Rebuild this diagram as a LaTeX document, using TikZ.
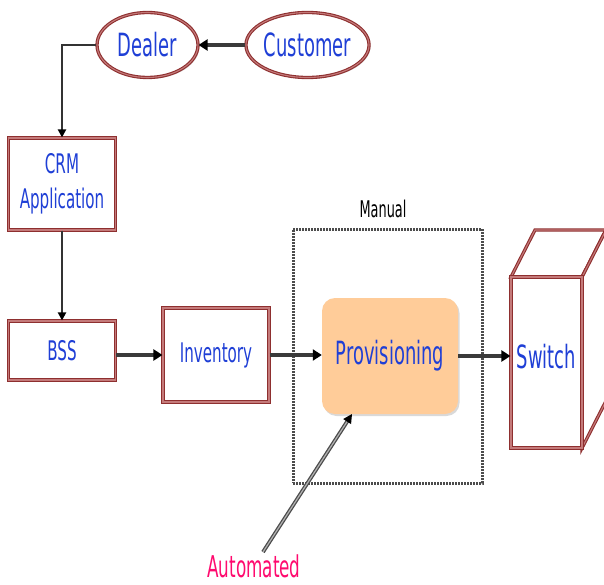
\documentclass[tikz,border=0pt]{standalone}
\usepackage{fontspec}
\setmainfont{DejaVu Sans}[FakeStretch=0.56]
\usetikzlibrary{shapes.geometric,arrows.meta,shadows}
\definecolor{txtblue}{HTML}{1F3FD6}
\definecolor{frame}{HTML}{8E2F2F}
\definecolor{framein}{HTML}{C47A7A}
\definecolor{peach}{HTML}{FFCC99}
\definecolor{autopink}{HTML}{FF0A6E}
\definecolor{conncol}{HTML}{3A3A3A}
\tikzset{
  framed/.style={draw=frame, double=framein, double distance=1.1pt, line width=1.1pt, fill=white, inner sep=0pt, text=txtblue,
    drop shadow={opacity=0.3, shadow xshift=1.5pt, shadow yshift=-1.5pt}},
  boxnode/.style={framed, rectangle, minimum width=#1},
  ellnode/.style={framed, ellipse, minimum width=101pt, minimum height=65pt, font=\fontsize{32}{34}\selectfont},
  bigconn/.style={draw=conncol, line width=4pt, -{Triangle[length=9pt,width=11pt,color=black,fill=black]}},
  thinconn/.style={draw=black!80, line width=2.2pt, -{Triangle[length=8pt,width=8pt,color=black,fill=black]}},
  autoconn/.style={draw=black!70, double=black!30, double distance=1.2pt, line width=1.3pt, -{Triangle[length=9pt,width=9pt,color=black,fill=black]}},
  manualbox/.style={draw=black!70, line width=3pt, dash pattern=on 1.8pt off 1.2pt, inner sep=0pt},
}
\begin{document}
\begin{tikzpicture}[x=1pt,y=-1pt]
\useasboundingbox (0,0) rectangle (604,585);

% manual dashed frame
\node[manualbox, minimum width=189pt, minimum height=254pt] (manual) at (387.5,356) {};
\node[font=\fontsize{23}{25}\selectfont, text=black] (manuallbl) at (383,209) {Manual};

% ellipses
\node[ellnode] (dealer) at (147.5,45) {Dealer};
\node[ellnode] (customer) at (307.5,45) {Customer};

% boxes
\node[boxnode=107pt, minimum height=92pt, align=center, font=\fontsize{27}{35}\selectfont] (crm) at (62,184) {CRM\\Application};
\node[boxnode=107pt, minimum height=59pt, font=\fontsize{27}{29}\selectfont] (bss) at (62,350.5) {BSS};
\node[boxnode=106pt, minimum height=94pt, font=\fontsize{27}{29}\selectfont] (inv) at (216,355) {Inventory};

% provisioning
\node[draw=none, fill=peach, rounded corners=13pt, minimum width=136pt, minimum height=116pt, inner sep=0pt,
  text=txtblue, font=\fontsize{32}{34}\selectfont,
  drop shadow={opacity=0.3, shadow xshift=1.5pt, shadow yshift=-2pt}] (prov) at (390,356) {\raisebox{2pt}{Provisioning}};

% switch cube
\draw[draw=frame, double=framein, double distance=1.1pt, line width=1.1pt, fill=white]
  (511,277) -- (535,230) -- (606,230) -- (582,277) -- cycle;
\draw[draw=frame, double=framein, double distance=1.1pt, line width=1.1pt, fill=white]
  (582,277) -- (606,230) -- (606,401) -- (582,448) -- cycle;
\node[framed, drop shadow={opacity=0}, rectangle, minimum width=71pt, minimum height=171pt, font=\fontsize{32}{34}\selectfont] (sw) at (546.5,362.5) {\raisebox{13pt}{Switch}};

% automated
\node[text=autopink, font=\fontsize{30}{32}\selectfont] (auto) at (254,566) {Automated};
\coordinate (autostart) at (263,552);
\coordinate (autoend) at (352,414);

% connectors
\draw[bigconn] (customer.west) -- (dealer.east);
\draw[thinconn] (dealer.west) -| (crm.north);
\draw[thinconn] (crm.south) -- (bss.north);
\draw[bigconn] (bss.east |- inv.west) -- (inv.west);
\draw[bigconn] (inv.east) -- (inv.east -| prov.west);
\draw[bigconn] (prov.east) -- (prov.east -| sw.west);
\draw[autoconn] (autostart) -- (autoend);
\end{tikzpicture}
\end{document}
